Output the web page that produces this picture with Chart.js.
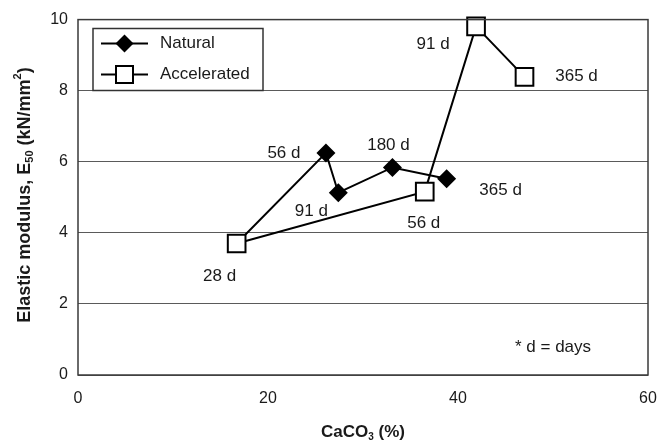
<!DOCTYPE html>
<html>
<head>
<meta charset="utf-8">
<script src="https://cdn.jsdelivr.net/npm/chart.js@4.4.0/dist/chart.umd.min.js"></script>
<style>
  html, body { margin: 0; padding: 0; background: #fff; }
  canvas { display: block; }
</style>
</head>
<body>
<canvas id="modulusChart" width="671" height="444"></canvas>
<script>
// CaCO3 content (%) vs elastic modulus E50 (kN/mm2), by curing age.
// Both curing regimes start from the same 28 d specimen.
const naturalCaCO3 = [16.7, 26.1, 27.4, 33.1, 38.8];
const naturalE50 = [3.70, 6.25, 5.13, 5.84, 5.52];
const naturalAges = ['', '56 d', '91 d', '180 d', '365 d'];

const accelCaCO3 = [16.7, 36.5, 41.9, 47.0];
const accelE50 = [3.70, 5.16, 9.81, 8.39];
const accelAges = ['28 d', '56 d', '91 d', '365 d'];

const xTickValues = [0, 20, 40, 60];
const yTickValues = [0, 2, 4, 6, 8, 10];

// where each age label sits relative to its marker (px)
const naturalLabelShift = [[0, 0], [-42, 0], [-27, 19], [-4, -22], [54, 11]];
const accelLabelShift = [[-17, 33], [-1, 32], [-43, 18], [52, -1]];

const FONT = '"Liberation Sans", Arial, sans-serif';
const TEXT = '#1a1a1a';

function toPoints(xs, ys) {
    return xs.map((x, i) => ({ x: x, y: ys[i] }));
}

// draws text runs with sub/superscripts starting at (x, y)
function drawRuns(ctx, runs, x, y, size) {
    runs.forEach(r => {
        const s = r.sub || r.sup ? Math.round(size * 0.6) : size;
        ctx.font = 'bold ' + s + 'px ' + FONT;
        const dy = r.sub ? size * 0.3 : (r.sup ? -size * 0.38 : 0);
        ctx.fillText(r.t, x, y + dy);
        x += ctx.measureText(r.t).width;
    });
    return x;
}

function runsWidth(ctx, runs, size) {
    let w = 0;
    runs.forEach(r => {
        const s = r.sub || r.sup ? Math.round(size * 0.6) : size;
        ctx.font = 'bold ' + s + 'px ' + FONT;
        w += ctx.measureText(r.t).width;
    });
    return w;
}

const decorations = {
    id: 'decorations',
    afterDatasetsDraw(chart) {
        const ctx = chart.ctx;
        const area = chart.chartArea;
        const xs = chart.scales.x, ys = chart.scales.y;
        ctx.save();

        // frame round the plot
        ctx.strokeStyle = '#3a3a3a';
        ctx.lineWidth = 1.5;
        ctx.strokeRect(area.left, area.top, area.right - area.left, area.bottom - area.top);

        // age labels beside the markers
        ctx.fillStyle = TEXT;
        ctx.font = '17px ' + FONT;
        ctx.textAlign = 'center';
        ctx.textBaseline = 'middle';
        const put = (xv, yv, labels, shift) => {
            labels.forEach((lab, i) => {
                if (!lab) return;
                const px = xs.getPixelForValue(xv[i]);
                const py = ys.getPixelForValue(yv[i]);
                ctx.fillText(lab, px + shift[i][0], py + shift[i][1]);
            });
        };
        put(naturalCaCO3, naturalE50, naturalAges, naturalLabelShift);
        put(accelCaCO3, accelE50, accelAges, accelLabelShift);

        ctx.fillText('* d = days', 553, 347);

        // legend box
        const lx = 93, ly = 28.5, lw = 170, lh = 62;
        ctx.fillStyle = '#fff';
        ctx.fillRect(lx, ly, lw, lh);
        ctx.strokeStyle = '#333';
        ctx.lineWidth = 1.5;
        ctx.strokeRect(lx, ly, lw, lh);

        const rows = [
            { label: 'Natural', y: 43.5, diamond: true },
            { label: 'Accelerated', y: 74.5, diamond: false }
        ];
        rows.forEach(r => {
            ctx.strokeStyle = '#000';
            ctx.lineWidth = 2;
            ctx.beginPath();
            ctx.moveTo(101, r.y);
            ctx.lineTo(148, r.y);
            ctx.stroke();
            if (r.diamond) {
                ctx.fillStyle = '#000';
                ctx.beginPath();
                ctx.moveTo(124.5, r.y - 9);
                ctx.lineTo(133.5, r.y);
                ctx.lineTo(124.5, r.y + 9);
                ctx.lineTo(115.5, r.y);
                ctx.closePath();
                ctx.fill();
            } else {
                ctx.fillStyle = '#fff';
                ctx.fillRect(116, r.y - 8.5, 17, 17);
                ctx.strokeRect(116, r.y - 8.5, 17, 17);
            }
            ctx.fillStyle = TEXT;
            ctx.font = '17px ' + FONT;
            ctx.textAlign = 'left';
            ctx.fillText(r.label, 160, r.y);
        });

        // axis titles
        ctx.fillStyle = TEXT;
        ctx.textAlign = 'left';
        ctx.textBaseline = 'middle';
        const xRuns = [{ t: 'CaCO' }, { t: '3', sub: true }, { t: ' (%)' }];
        const xw = runsWidth(ctx, xRuns, 17);
        drawRuns(ctx, xRuns, (area.left + area.right) / 2 - xw / 2, 432, 17);

        const yRuns = [{ t: 'Elastic modulus, E' }, { t: '50', sub: true },
                       { t: ' (kN/mm' }, { t: '2', sup: true }, { t: ')' }];
        ctx.translate(25, 195);
        ctx.rotate(-Math.PI / 2);
        const yw = runsWidth(ctx, yRuns, 18);
        drawRuns(ctx, yRuns, -yw / 2, 0, 18);

        ctx.restore();
    }
};

const chart = new Chart(document.getElementById('modulusChart'), {
    type: 'scatter',
    data: {
        datasets: [{
            label: 'Natural',
            data: toPoints(naturalCaCO3, naturalE50),
            order: 1,
            showLine: true,
            borderColor: '#000',
            borderWidth: 2,
            backgroundColor: '#000',
            pointStyle: 'rectRot',
            // the shared 28 d point is marked by the Accelerated square
            pointRadius: [0, 9.5, 9.5, 9.5, 9.5],
            pointBorderWidth: 0,
            pointBackgroundColor: '#000',
            clip: false
        }, {
            label: 'Accelerated',
            data: toPoints(accelCaCO3, accelE50),
            order: 0,
            showLine: true,
            borderColor: '#000',
            borderWidth: 2,
            backgroundColor: '#fff',
            pointStyle: 'rect',
            pointRadius: 12.5,
            pointBorderWidth: 2,
            pointBorderColor: '#000',
            pointBackgroundColor: '#fff',
            clip: false
        }]
    },
    options: {
        responsive: false,
        animation: false,
        devicePixelRatio: 1,
        layout: { padding: { top: 14, right: 23, left: 0, bottom: 0 } },
        plugins: {
            legend: { display: false },
            tooltip: { enabled: false }
        },
        scales: {
            x: {
                min: 0,
                max: 60,
                afterBuildTicks: axis => { axis.ticks = xTickValues.map(v => ({ value: v })); },
                afterFit: axis => { axis.height = 69; },
                grid: { display: false, drawTicks: false },
                border: { display: false },
                ticks: {
                    color: TEXT,
                    padding: 14,
                    maxRotation: 0,
                    font: { family: FONT, size: 16 }
                }
            },
            y: {
                min: 0,
                max: 10,
                afterBuildTicks: axis => { axis.ticks = yTickValues.map(v => ({ value: v })); },
                afterFit: axis => { axis.width = 78; },
                grid: { color: '#5a5a5a', lineWidth: 1, drawTicks: false },
                border: { display: false },
                ticks: {
                    color: TEXT,
                    padding: 10,
                    font: { family: FONT, size: 16 }
                }
            }
        }
    },
    plugins: [decorations]
});
</script>
</body>
</html>
